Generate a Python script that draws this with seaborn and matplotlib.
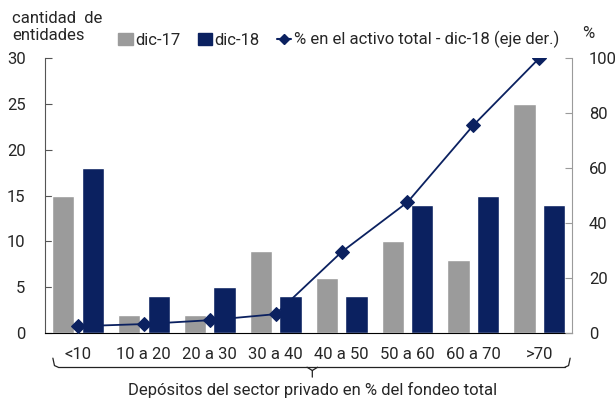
"""Bar + line chart: entidades por depósitos del sector privado."""
import numpy as np
import pandas as pd
import matplotlib.pyplot as plt
import seaborn as sns
from matplotlib.patches import Patch
from matplotlib.lines import Line2D

categorias = ["<10", "10 a 20", "20 a 30", "30 a 40", "40 a 50", "50 a 60", "60 a 70", ">70"]
dic17 = [15, 2, 2, 9, 6, 10, 8, 25]
dic18 = [18, 4, 5, 4, 4, 14, 15, 14]
activo_pct = [2.5, 3.3, 4.7, 6.9, 29.5, 47.6, 75.6, 100.0]

GRIS = "#9b9b9b"
AZUL = "#0b2160"

sns.set_style("white")
plt.rcParams["font.family"] = ["Roboto", "DejaVu Sans"]
plt.rcParams["font.size"] = 12

df = pd.DataFrame({"cat": categorias * 2,
                   "serie": ["dic-17"] * 8 + ["dic-18"] * 8,
                   "valor": dic17 + dic18})

fig = plt.figure(figsize=(6.16, 3.98), dpi=100)
ax = fig.add_axes([0.073, 0.163, 0.856, 0.691])
sns.barplot(data=df, x="cat", y="valor", hue="serie", palette=[GRIS, AZUL],
            width=0.9, gap=0.25, saturation=1, ax=ax, legend=False)
ax.set_xlim(-0.5, 7.5)
ax.set_ylim(0, 30)
ax.set_yticks(range(0, 31, 5))
ax.set_xlabel("")
ax.set_ylabel("")
ax.tick_params(axis="x", length=0, pad=10)
ax.tick_params(axis="y", length=5, direction="in", color="#555555", left=True, pad=14)
for s in ["top", "right"]:
    ax.spines[s].set_visible(False)
ax.spines["left"].set_color("#555555")
ax.spines["bottom"].set_color("black")

# line on the right axis
ax2 = ax.twinx()
sns.lineplot(x=np.arange(len(categorias)), y=activo_pct, ax=ax2, color=AZUL,
             marker="D", markersize=7, linewidth=1.3, markeredgecolor=AZUL)
ax2.set_ylim(0, 100)
ax2.set_yticks(range(0, 101, 20))
ax2.tick_params(axis="y", length=5, direction="in", color="#9b9b9b", right=True, pad=12)
for s in ["top", "left", "bottom"]:
    ax2.spines[s].set_visible(False)
ax2.spines["right"].set_color("#9b9b9b")

handles = [Patch(color=GRIS, label="dic-17"), Patch(color=AZUL, label="dic-18"),
           Line2D([], [], color=AZUL, marker="D", markersize=5,
                  label="% en el activo total - dic-18 (eje der.)")]
fig.legend(handles=handles, loc="center left", bbox_to_anchor=(0.168, 0.9), ncol=3,
           frameon=False, handlelength=0.85, handletextpad=0.15, columnspacing=1.05,
           handleheight=0.7, fontsize=12)

fig.text(0.02, 0.932, "cantidad  de\nentidades", ha="left", va="center", linespacing=1.15)
fig.text(0.945, 0.915, "%", ha="left", va="center")

# brace under the categories
yb, h, tip = -0.124, 0.033, 0.036
kw = dict(transform=ax.transAxes, color="#222222", lw=0.9, clip_on=False)
ax.plot([0.015, 0.018, 0.025], [yb + h, yb + 0.006, yb], **kw)
ax.plot([0.996, 0.993, 0.986], [yb + h, yb + 0.006, yb], **kw)
ax.plot([0.025, 0.986], [yb, yb], **kw)
ax.plot([0.497, 0.507, 0.507], [yb, yb - 0.012, yb - tip], **kw)
ax.plot([0.517, 0.507], [yb, yb - 0.012], **kw)
fig.text(0.508, 0.02, "Depósitos del sector privado en % del fondeo total", ha="center", va="center")

fig.savefig("out.png", dpi=100)
